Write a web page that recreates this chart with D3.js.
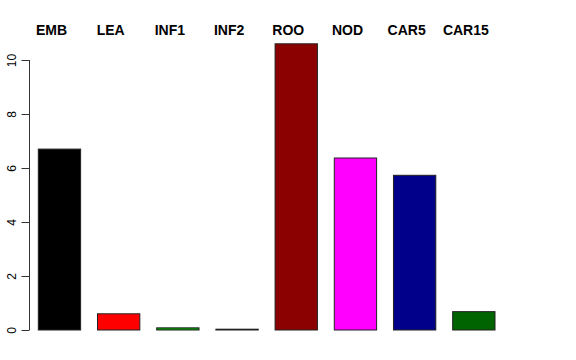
<!DOCTYPE html>
<html>
<head>
<meta charset="utf-8">
<script src="https://cdn.jsdelivr.net/npm/d3@7"></script>
<style>
body{margin:0;background:#fff;}
svg{display:block;}
</style>
</head>
<body>
<svg id="chart" width="576" height="360"></svg>
<script>
const categories = ["EMB","LEA","INF1","INF2","ROO","NOD","CAR5","CAR15"];
const values = [6.70, 0.60, 0.08, 0.03, 10.60, 6.37, 5.73, 0.68];
const colors = ["#000000","#FF0000","#00A000","#000000","#8B0000","#FF00FF","#00008B","#006400"];
const yTicks = [0,2,4,6,8,10];

const svg = d3.select("#chart");
const x = d3.scaleBand().domain(categories).range([38.3, 495]).paddingInner(0.285).paddingOuter(0);
const y = d3.scaleLinear().domain([0,10]).range([330, 60]);

svg.selectAll("rect.bar").data(categories).enter().append("rect")
  .attr("class","bar")
  .attr("x", d => x(d))
  .attr("width", x.bandwidth())
  .attr("y", (d,i) => y(values[i]))
  .attr("height", (d,i) => y(0) - y(values[i]))
  .attr("fill", (d,i) => colors[i])
  .attr("stroke", "#222")
  .attr("stroke-width", 1);

svg.selectAll("text.cat").data(categories).enter().append("text")
  .attr("class","cat")
  .attr("x", d => x(d) + x.bandwidth()/2 - 8)
  .attr("y", 35)
  .attr("text-anchor","middle")
  .attr("font-family","Liberation Sans, Arial, sans-serif")
  .attr("font-weight","bold")
  .attr("font-size","14px")
  .text(d => d);

const axis = d3.axisLeft(y).tickValues(yTicks).tickSize(8).tickPadding(0).tickFormat(d3.format("d"));
const g = svg.append("g").attr("transform","translate(29.5,0)").call(axis);
g.select(".domain").attr("d", `M0,${y(0)}V${y(10)}`).attr("stroke","#333");
g.selectAll(".tick line").attr("stroke","#333");
g.selectAll(".tick text")
  .attr("x", null).attr("dy", null)
  .attr("text-anchor","middle")
  .attr("transform","translate(-14,0) rotate(-90)")
  .attr("font-family","Liberation Sans, Arial, sans-serif")
  .attr("font-size","12px")
  .attr("fill","#000");
</script>
</body>
</html>
